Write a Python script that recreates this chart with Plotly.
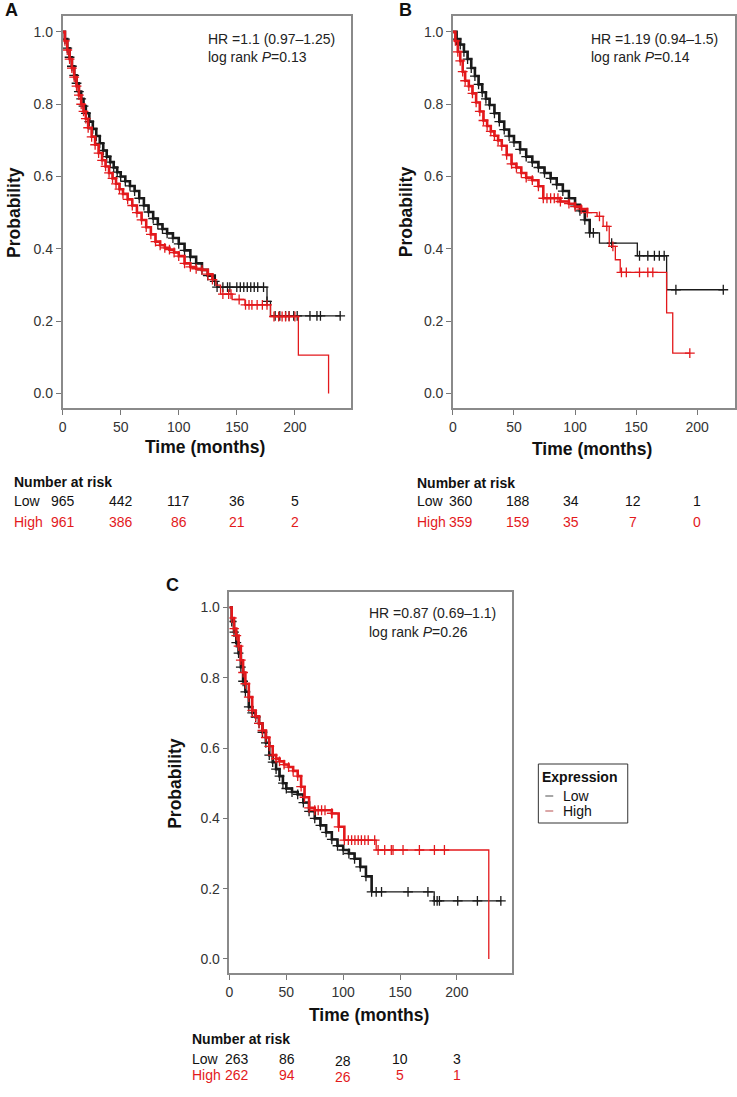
import plotly.graph_objects as go

W, H = 737, 1097

# ---------------- DATA ----------------
# Panel A
a_low_t = [0, 2, 4, 6, 8, 10, 12, 14, 16, 18, 20, 23, 26, 29, 32, 35, 38, 41, 44, 47, 50, 54, 58, 62, 66, 70, 74, 78,
           82, 86, 90, 95, 100, 105, 110, 115, 120, 125, 131, 133, 176, 179, 239]
a_low_s = [1.0, 0.98, 0.955, 0.93, 0.905, 0.88, 0.858, 0.835, 0.815, 0.795, 0.775, 0.752, 0.732, 0.712, 0.692, 0.672,
           0.655, 0.64, 0.625, 0.612, 0.6, 0.587, 0.574, 0.56, 0.54, 0.52, 0.502, 0.484, 0.468, 0.455, 0.443, 0.43,
           0.414, 0.396, 0.378, 0.36, 0.342, 0.326, 0.31, 0.294, 0.255, 0.215, 0.215]
a_low_cens = [133, 138, 142, 144, 150, 153, 156, 159, 162, 165, 168, 173, 176, 183, 187, 192, 195, 199, 202, 213, 219,
              222, 239]
a_high_t = [0, 2, 4, 6, 8, 10, 12, 14, 16, 18, 20, 22, 25, 28, 31, 34, 37, 40, 43, 46, 49, 52, 56, 60, 64, 68, 72, 76,
            80, 84, 88, 92, 96, 100, 105, 110, 115, 120, 125, 129, 132, 136, 146, 157, 179, 203, 229]
a_high_s = [1.0, 0.975, 0.95, 0.925, 0.9, 0.875, 0.85, 0.825, 0.8, 0.78, 0.76, 0.735, 0.71, 0.688, 0.665, 0.645, 0.628,
            0.61, 0.595, 0.58, 0.565, 0.552, 0.537, 0.52, 0.5, 0.48, 0.46, 0.44, 0.42, 0.41, 0.403, 0.398, 0.39, 0.38,
            0.36, 0.35, 0.345, 0.342, 0.33, 0.315, 0.30, 0.275, 0.26, 0.245, 0.213, 0.106, 0.0]
a_high_cens = [138, 143, 145, 152, 157.5, 160.5, 163, 167.5, 172, 176, 182, 186, 189, 192, 195, 200]

# Panel B
b_low_t = [0, 3, 6, 9, 12, 15, 18, 21, 24, 27, 30, 34, 38, 42, 46, 50, 55, 60, 65, 70, 75, 80, 85, 90, 95, 100, 104,
           108, 112, 120, 151, 175, 222]
b_low_s = [1.0, 0.98, 0.965, 0.945, 0.925, 0.9, 0.878, 0.855, 0.833, 0.815, 0.798, 0.775, 0.752, 0.73, 0.712, 0.695,
           0.675, 0.655, 0.64, 0.625, 0.61, 0.595, 0.578, 0.56, 0.54, 0.522, 0.505, 0.48, 0.444, 0.416, 0.381, 0.287,
           0.287]
b_low_cens = [115, 130, 152.8, 159.6, 165, 169, 173, 182.6, 221.4]
b_high_t = [0, 2, 4, 6, 8, 10, 13, 16, 19, 22, 25, 28, 31, 34, 37, 40, 44, 48, 52, 56, 60, 65, 70, 74, 88, 95, 100, 105,
            110, 118, 123, 128, 133, 137, 175, 180, 194]
b_high_s = [1.0, 0.975, 0.945, 0.92, 0.89, 0.865, 0.85, 0.83, 0.805, 0.78, 0.755, 0.74, 0.725, 0.713, 0.7, 0.685, 0.66,
            0.635, 0.625, 0.61, 0.597, 0.59, 0.573, 0.54, 0.531, 0.525, 0.517, 0.51, 0.5, 0.49, 0.462, 0.407, 0.37,
            0.335, 0.223, 0.112, 0.112]
b_high_cens = [77, 80, 83, 86, 120, 126, 131, 138, 142, 152.8, 159.6, 163.7, 194]

# Panel C
c_low_t = [0, 2, 4, 6, 8, 10, 12, 14, 17, 20, 23, 26, 29, 32, 35, 38, 41, 44, 47, 50, 55, 60, 65, 70, 75, 80, 85, 90,
           95, 100, 105, 110, 115, 120, 125, 180, 239]
c_low_s = [1.0, 0.96, 0.93, 0.9, 0.87, 0.83, 0.79, 0.76, 0.717, 0.7, 0.688, 0.67, 0.645, 0.615, 0.58, 0.56, 0.54, 0.52,
           0.5, 0.485, 0.475, 0.468, 0.445, 0.42, 0.4, 0.38, 0.36, 0.34, 0.322, 0.31, 0.3, 0.285, 0.262, 0.235, 0.191,
           0.165, 0.165]
c_low_cens = [129, 133.7, 157, 174.5, 180, 182.6, 184.6, 200.7, 218, 238.6]
c_high_t = [0, 2, 4, 6, 8, 10, 12, 14, 17, 20, 23, 26, 29, 32, 35, 38, 41, 44, 48, 52, 56, 60, 63, 66, 70, 75, 90, 96,
            101, 129, 228]
c_high_s = [1.0, 0.97, 0.94, 0.92, 0.89, 0.85, 0.815, 0.783, 0.745, 0.707, 0.69, 0.67, 0.65, 0.63, 0.605, 0.58, 0.57,
            0.562, 0.553, 0.546, 0.535, 0.52, 0.49, 0.46, 0.43, 0.423, 0.414, 0.376, 0.338, 0.31, 0.0]
c_high_cens = [78, 81, 84, 90, 104.5, 107.4, 110.3, 113.2, 116, 119, 122, 127.7, 130.7, 136.5, 142.3, 143.8, 152.6,
               167, 180.2, 189]

# Annotations / tables
hr_text = ["HR =1.1 (0.97\u20131.25)", "HR =1.19 (0.94\u20131.5)", "HR =0.87 (0.69\u20131.1)"]
p_text = ["log rank <i>P</i>=0.13", "log rank <i>P</i>=0.14", "log rank <i>P</i>=0.26"]
risk_times = [0, 50, 100, 150, 200]
a_risk_low = [965, 442, 117, 36, 5]
a_risk_high = [961, 386, 86, 21, 2]
b_risk_low = [360, 188, 34, 12, 1]
b_risk_high = [359, 159, 35, 7, 0]
c_risk_low = [263, 86, 28, 10, 3]
c_risk_high = [262, 94, 26, 5, 1]
x_ticks = [0, 50, 100, 150, 200]
y_ticks = [0.0, 0.2, 0.4, 0.6, 0.8, 1.0]

# ---------------- STYLE ----------------
BLACK = "#1a1a1a"
RED = "#e3191c"
FONT = "Liberation Sans, Arial, sans-serif"
TXT = 14
TITLE = 17.5


def fx(px):
    return px / W


def fy(py):
    return 1 - py / H


def surv_at(ts, ss, t):
    val = ss[0]
    for ti, si in zip(ts, ss):
        if ti <= t:
            val = si
    return val


def ann(**kw):
    base = dict(showarrow=False, borderpad=0, borderwidth=0)
    base.update(kw)
    return base


panels = [
    dict(letter="A", xa="x", ya="y", left=59, right=349, top=16, bottom=408, xmax=248,
         low=(a_low_t, a_low_s, a_low_cens), high=(a_high_t, a_high_s, a_high_cens), dense=131,
         risk=(a_risk_low, a_risk_high), letter_pos=(8, 0), hr_pos=(205, 39, 57),
         prob_pos=(10, 212), time_pos=(202, 447), risk_left=10, risk_y=(482, 501, 522),
         risk_shift=[0, 0, 0, 0, 0], risk_dy=[0, 0, 0, 0, 0]),
    dict(letter="B", xa="x2", ya="y2", left=452, right=736, top=16, bottom=408, xmax=231,
         low=(b_low_t, b_low_s, b_low_cens), high=(b_high_t, b_high_s, b_high_cens), dense=112,
         risk=(b_risk_low, b_risk_high), letter_pos=(404, 0), hr_pos=(591, 39, 57),
         prob_pos=(405, 212), time_pos=(592, 449), risk_left=416, risk_y=(483, 501, 522),
         risk_shift=[8, 4, -4, -3, 0], risk_dy=[0, 0, 0, 0, 0]),
    dict(letter="C", xa="x3", ya="y3", left=227, right=511, top=592, bottom=973, xmax=248,
         low=(c_low_t, c_low_s, c_low_cens), high=(c_high_t, c_high_s, c_high_cens), dense=125,
         risk=(c_risk_low, c_risk_high), letter_pos=(170, 575), hr_pos=(367, 613, 632),
         prob_pos=(172, 783), time_pos=(367, 1015), risk_left=189, risk_y=(1039, 1059, 1075),
         risk_shift=[8, 1, 0, 0, 0], risk_dy=[0, 0, 2, 0, 0]),
]

fig = go.Figure()
annotations = []
shapes = []
layout_axes = {}

for i, p in enumerate(panels):
    xname = "xaxis" if i == 0 else f"xaxis{i + 1}"
    yname = "yaxis" if i == 0 else f"yaxis{i + 1}"
    y0 = -0.04
    y1 = 1.044
    layout_axes[xname] = dict(
        domain=[fx(p["left"]), fx(p["right"])], anchor=p["ya"], range=[0, p["xmax"]],
        tickvals=x_ticks, showgrid=False, zeroline=False, showline=True, mirror=True,
        linecolor="#8a8a8a", linewidth=1.5, ticks="outside", ticklen=5, tickcolor="#777",
        tickfont=dict(family=FONT, size=14, color="#333"))
    layout_axes[yname] = dict(
        domain=[fy(p["bottom"]), fy(p["top"])], anchor=p["xa"], range=[y0, y1],
        tickvals=y_ticks, tickformat=".1f", showgrid=False, zeroline=False, showline=True,
        mirror=True, linecolor="#8a8a8a", linewidth=1.5, ticks="outside", ticklen=5,
        tickcolor="#777", tickfont=dict(family=FONT, size=14, color="#333"))

    for (ts, ss, cens), col in ((p["low"], BLACK), (p["high"], RED)):
        fig.add_trace(go.Scatter(x=ts, y=ss, mode="lines", line=dict(color=col, width=1.3, shape="hv"),
                                 xaxis=p["xa"], yaxis=p["ya"], showlegend=False, hoverinfo="skip"))
        dx = [t for t in ts if t <= p["dense"]]
        dy = [surv_at(ts, ss, t) for t in dx]
        fig.add_trace(go.Scatter(x=dx, y=dy, mode="lines", line=dict(color=col, width=2.6, shape="hv"),
                                 xaxis=p["xa"], yaxis=p["ya"], showlegend=False, hoverinfo="skip"))
        mx = [t for t in ts if 0 < t <= p["dense"]] + list(cens)
        my = [surv_at(ts, ss, t) for t in mx]
        fig.add_trace(go.Scatter(x=mx, y=my, mode="markers",
                                 marker=dict(symbol="cross-thin", size=7, color=col,
                                             line=dict(color=col, width=1.3)),
                                 xaxis=p["xa"], yaxis=p["ya"], showlegend=False, hoverinfo="skip"))

    annotations.append(ann(text=f"<b>{p['letter']}</b>", x=fx(p["letter_pos"][0]), y=fy(p["letter_pos"][1]),
                           xref="paper", yref="paper", xanchor="center", yanchor="top",
                           font=dict(family=FONT, size=18, color="#111")))
    hx, hy1, hy2 = p["hr_pos"]
    annotations.append(ann(text=hr_text[i], x=fx(hx), y=fy(hy1), xref="paper", yref="paper",
                           xanchor="left", yanchor="middle", font=dict(family=FONT, size=TXT, color="#222")))
    annotations.append(ann(text=p_text[i], x=fx(hx), y=fy(hy2), xref="paper", yref="paper",
                           xanchor="left", yanchor="middle", font=dict(family=FONT, size=TXT, color="#222")))
    annotations.append(ann(text="<b>Probability</b>", x=fx(p["prob_pos"][0]), y=fy(p["prob_pos"][1]),
                           xref="paper", yref="paper", textangle=-90,
                           xanchor="center", yanchor="middle", font=dict(family=FONT, size=TITLE, color="#111")))
    annotations.append(ann(text="<b>Time (months)</b>", x=fx(p["time_pos"][0]), y=fy(p["time_pos"][1]),
                           xref="paper", yref="paper",
                           xanchor="center", yanchor="middle", font=dict(family=FONT, size=TITLE, color="#111")))
    ry0, ry1, ry2 = p["risk_y"]
    annotations.append(ann(text="<b>Number at risk</b>", x=fx(p["risk_left"]), y=fy(ry0), xref="paper",
                           yref="paper", xanchor="left", yanchor="middle",
                           font=dict(family=FONT, size=TXT, color="#111")))
    annotations.append(ann(text="Low", x=fx(p["risk_left"]), y=fy(ry1), xref="paper", yref="paper",
                           xanchor="left", yanchor="middle", font=dict(family=FONT, size=TXT, color="#111")))
    annotations.append(ann(text="High", x=fx(p["risk_left"]), y=fy(ry2), xref="paper", yref="paper",
                           xanchor="left", yanchor="middle", font=dict(family=FONT, size=TXT, color=RED)))
    lows, highs = p["risk"]
    for j, t in enumerate(risk_times):
        annotations.append(ann(text=str(lows[j]), x=t, y=fy(ry1 + p["risk_dy"][j]), xref=p["xa"], yref="paper",
                               xanchor="center", yanchor="middle", xshift=p["risk_shift"][j],
                               font=dict(family=FONT, size=TXT, color="#111")))
        annotations.append(ann(text=str(highs[j]), x=t, y=fy(ry2 + p["risk_dy"][j]), xref=p["xa"], yref="paper",
                               xanchor="center", yanchor="middle", xshift=p["risk_shift"][j],
                               font=dict(family=FONT, size=TXT, color=RED)))

# Legend (manual)
shapes.append(dict(type="rect", xref="paper", yref="paper", x0=fx(538), x1=fx(628), y0=fy(823), y1=fy(764),
                   line=dict(color="#333", width=1), fillcolor="white"))
annotations.append(ann(text="<b>Expression</b>", x=fx(542), y=fy(777), xref="paper", yref="paper",
                       xanchor="left", yanchor="middle", font=dict(family=FONT, size=TXT, color="#111")))
for label, col, yy in (("Low", "#8a8a8a", 796), ("High", "#cf8a8a", 811)):
    shapes.append(dict(type="line", xref="paper", yref="paper", x0=fx(545), x1=fx(553), y0=fy(yy), y1=fy(yy),
                       line=dict(color=col, width=1.5)))
    annotations.append(ann(text=label, x=fx(563), y=fy(yy), xref="paper", yref="paper",
                           xanchor="left", yanchor="middle", font=dict(family=FONT, size=TXT, color="#111")))

fig.update_layout(width=W, height=H, margin=dict(l=0, r=0, t=0, b=0), paper_bgcolor="white",
                  plot_bgcolor="white", annotations=annotations, shapes=shapes, showlegend=False,
                  **layout_axes)

fig.write_html("out.html", config={"displayModeBar": False},
               post_script="document.body.style.margin='0';document.body.style.overflow='hidden';")
